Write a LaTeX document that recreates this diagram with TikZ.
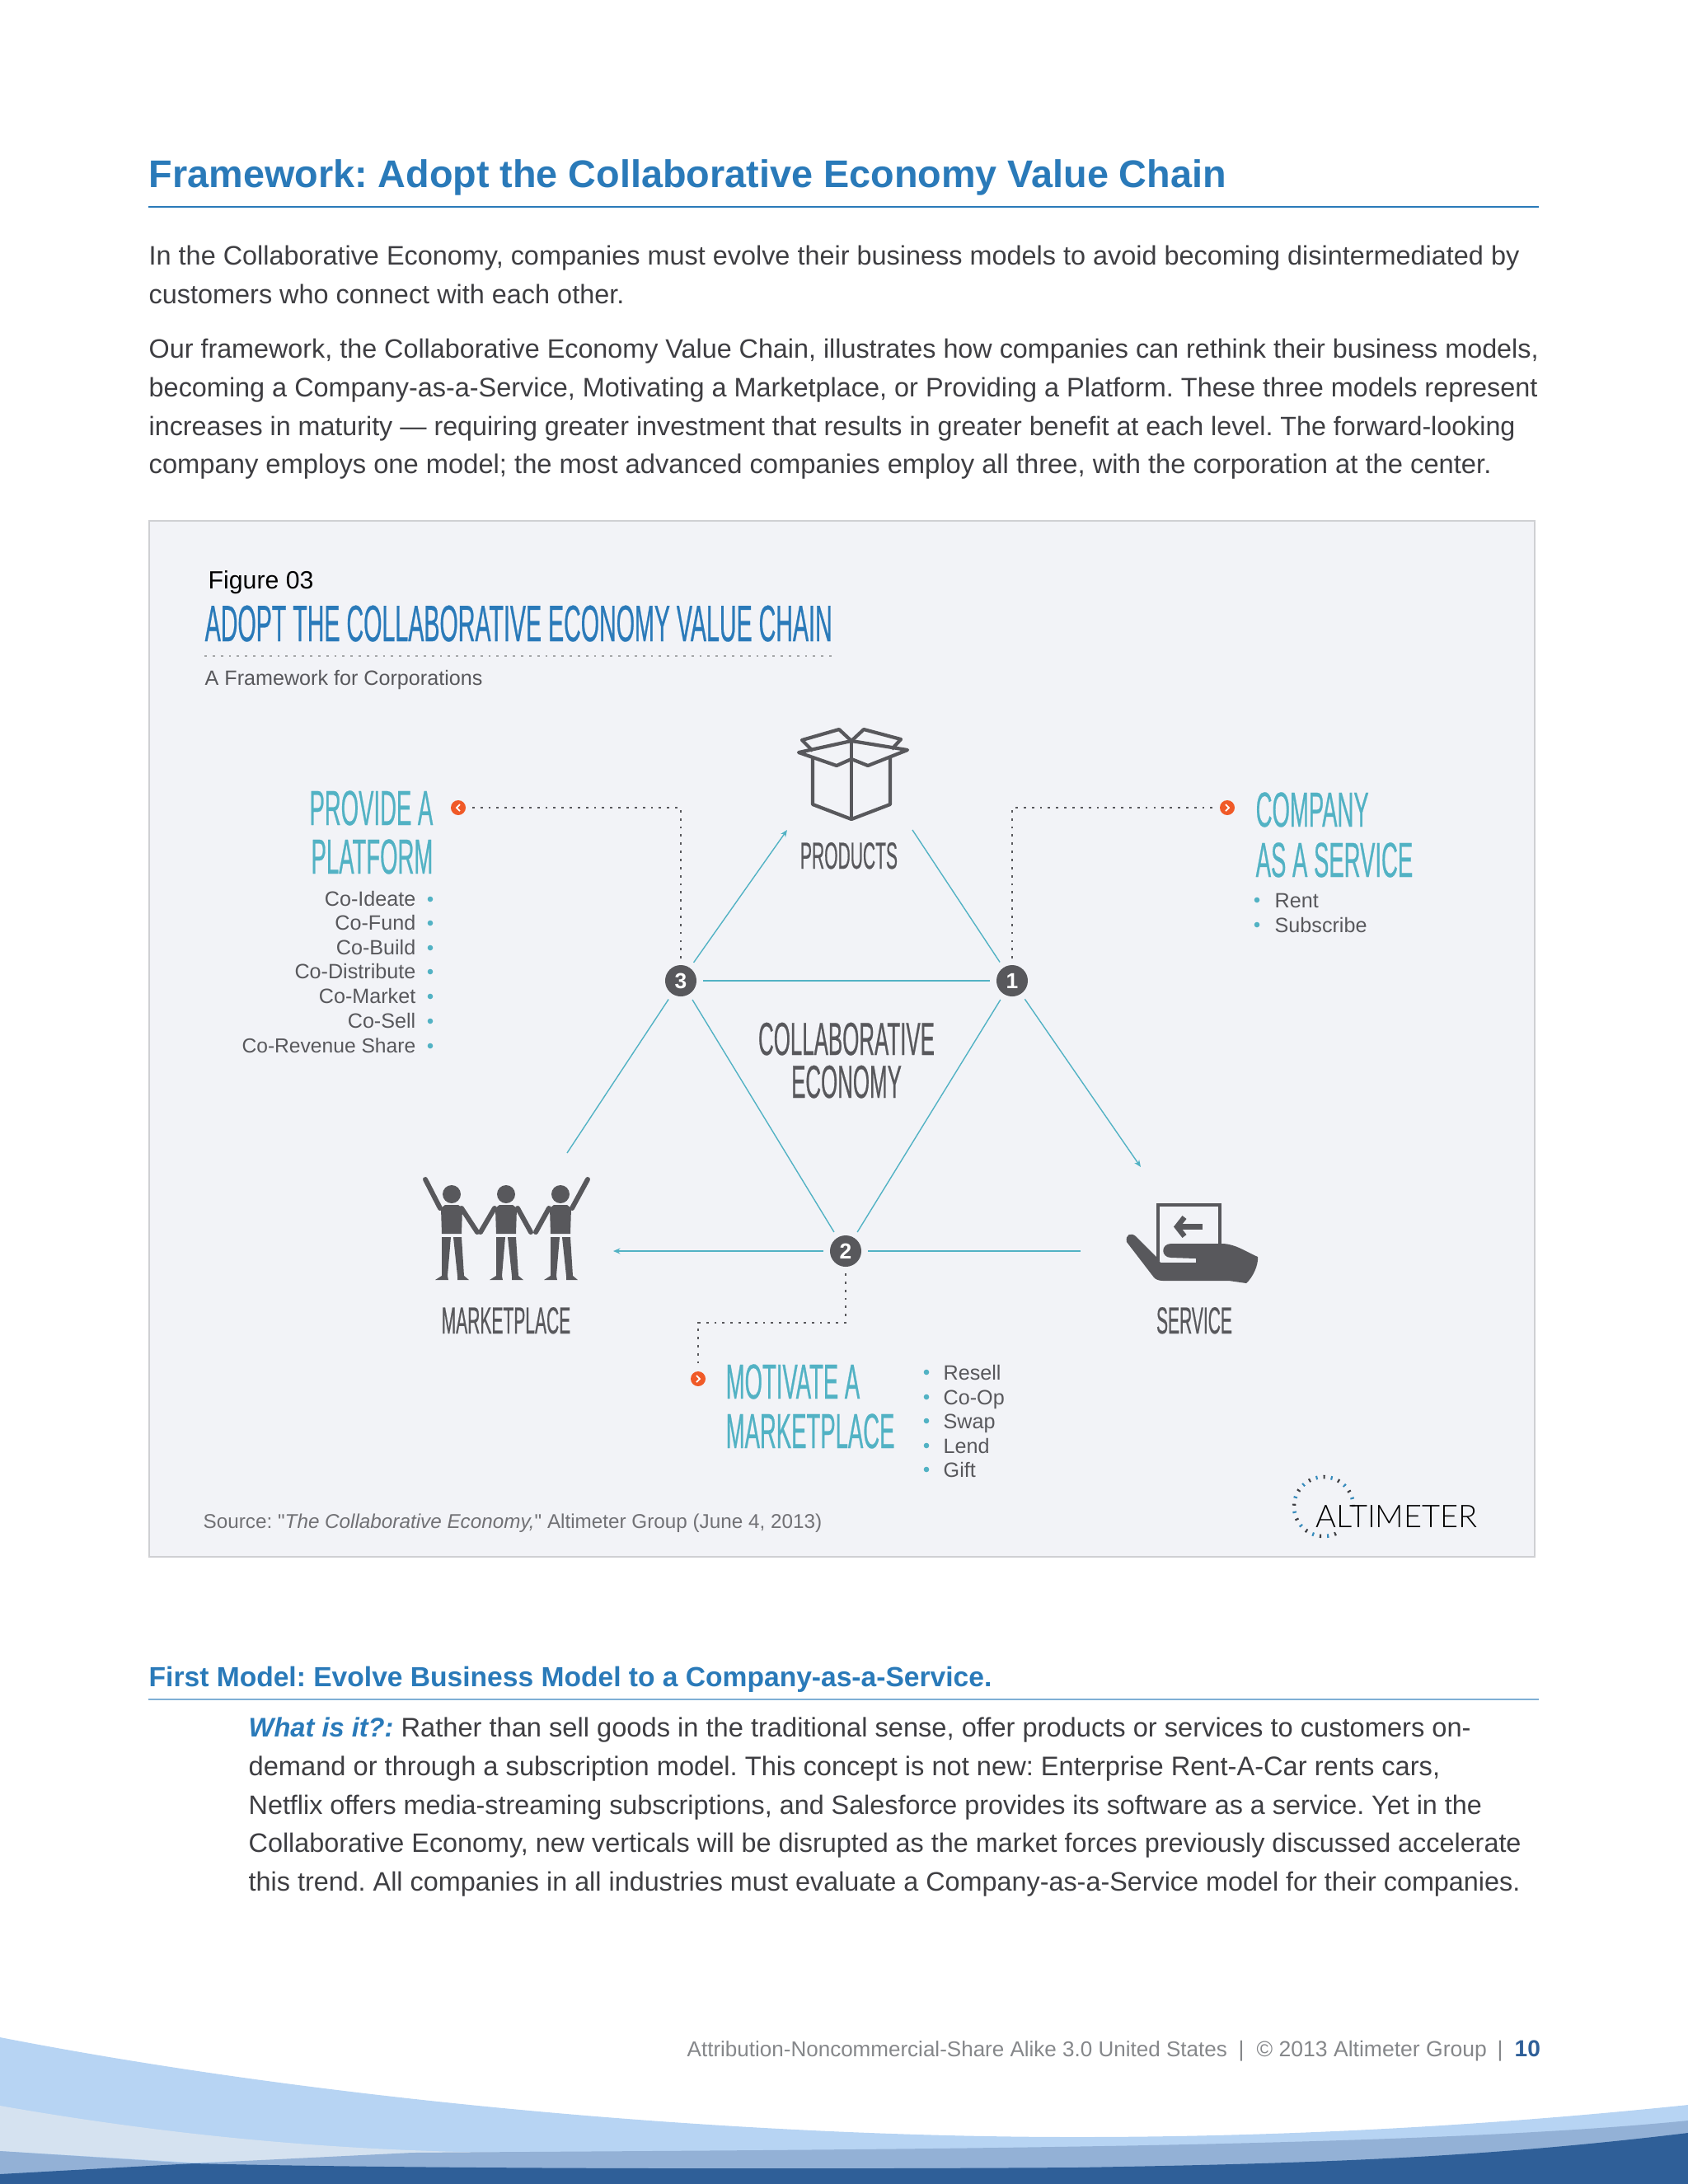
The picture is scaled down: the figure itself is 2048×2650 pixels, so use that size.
\documentclass[tikz,border=0pt]{standalone}
\usepackage{fontspec}
\usetikzlibrary{arrows.meta}
\setmainfont{Liberation Sans}
\newfontfamily\narrowfont[FakeStretch=.46,FakeBold=.4]{Liberation Sans}
\newfontfamily\logofont{Lato Light}
\newfontfamily\plainfont{Liberation Sans}
\AtBeginDocument{\frenchspacing}
\definecolor{headblue}{HTML}{2A7AB9}
\definecolor{rulegray}{HTML}{CFD0D3}
\definecolor{panelbg}{HTML}{F2F3F7}
\definecolor{iconcol}{HTML}{58585C}
\definecolor{bodycol}{HTML}{3E3E42}
\definecolor{tealcol}{HTML}{52B2C4}
\definecolor{tipcol}{HTML}{F05A28}
\definecolor{footcol}{HTML}{85878A}
\definecolor{waveone}{HTML}{B7D4F3}
\definecolor{wavetwo}{HTML}{D5E2F0}
\definecolor{wavethree}{HTML}{93B1D6}
\definecolor{wavefour}{HTML}{2F5F98}
\newcommand{\sz}[1]{\fontsize{#1}{#1}\selectfont}
\newcommand{\person}[1]{%
\begin{scope}[shift={(#1,0)}]
\fill[iconcol](0,1449)circle(11);
\fill[iconcol](-8,1462)--(8,1462)--(13,1466)--(12,1497)--(-12,1497)--(-13,1466)--cycle;
\fill[iconcol](-12,1501)--(-1,1501)--(-5,1548)--(-4,1553)--(-20,1553)--(-12,1548)--cycle;
\fill[iconcol](2,1501)--(12,1501)--(15,1548)--(21,1553)--(7,1553)--(7,1548)--cycle;
\end{scope}}
\begin{document}
\begin{tikzpicture}[x=.01cm,y=-.01cm,>={Stealth[length=2.4pt,width=2pt]},
txt/.style={inner sep=0pt,anchor=base west,font=\sz{9.22},text=bodycol},
small/.style={inner sep=0pt,anchor=base west,font=\sz{7.15},text=iconcol},
smallr/.style={small,anchor=base east},
big/.style={inner sep=0pt,anchor=base west,font=\narrowfont\sz{17},text=tealcol},
bigr/.style={big,anchor=base east},
lab/.style={inner sep=0pt,anchor=base,font=\narrowfont\sz{13},text=iconcol},
foot/.style={inner sep=0pt,anchor=base west,font=\sz{7.55},text=footcol},
num/.style={circle,fill=iconcol,text=white,inner sep=0pt,minimum size=.38cm,outer sep=.08cm,font=\bfseries\sz{7.5}},
tip/.style={circle,fill=tipcol,inner sep=0pt,minimum size=.18cm,outer sep=.05cm},
link/.style={tealcol,line width=.4pt},
dotline/.style={iconcol,line width=.8pt,dash pattern=on .8pt off 2pt}]
\useasboundingbox(0,0)rectangle(2048,2650);
% wave
\fill[waveone](0,2472).. controls (400,2550) and (900,2593) .. (1306,2593).. controls (1500,2593) and (1750,2585) .. (2048,2554)--(2048,2650)--(0,2650)--cycle;
\fill[wavetwo](0,2555).. controls (200,2590) and (400,2610) .. (620,2612)--(235,2624)--(0,2610)--cycle;
\fill[wavethree](0,2610)--(235,2625)--(500,2612).. controls (1000,2608) and (1700,2608) .. (2048,2573)--(2048,2650)--(0,2650)--cycle;
\fill[wavefour](0,2638)--(235,2625).. controls (500,2632) and (1000,2632) .. (1306,2630).. controls (1600,2625) and (1800,2618) .. (2048,2588)--(2048,2650)--(0,2650)--cycle;
% heading
\node(head)at(180,227)[inner sep=0pt,anchor=base west,font=\bfseries\sz{13.3},text=headblue]{Framework: Adopt the Collaborative Economy Value Chain};
\draw[headblue,line width=.5pt](180,251)--(1867,251);
\node(pa)at(180,321)[txt]{In the Collaborative Economy, companies must evolve their business models to avoid becoming disintermediated by};
\node(pb)at(180,368)[txt]{customers who connect with each other.};
\node(pc)at(180,434)[txt,font=\sz{9.19}]{Our framework, the Collaborative Economy Value Chain, illustrates how companies can rethink their business models,};
\node(pd)at(180,481)[txt]{becoming a Company-as-a-Service, Motivating a Marketplace, or Providing a Platform. These three models represent};
\node(pe)at(180,528)[txt,font=\sz{9.17}]{increases in maturity — requiring greater investment that results in greater benefit at each level. The forward-looking};
\node(pf)at(180,574)[txt,font=\sz{9.3}]{company employs one model; the most advanced companies employ all three, with the corporation at the center.};
% panel
\draw[fill=panelbg,draw=rulegray,line width=.7pt](181,632)rectangle(1862,1889);
\node(fig)at(252,714)[small,font=\sz{8.6},text=black]{Figure 03};
\node(figtitle)at(248,778)[inner sep=0pt,anchor=base west,font=\narrowfont\sz{17.7},text=headblue]{ADOPT THE COLLABORATIVE ECONOMY VALUE CHAIN};
\draw[rulegray!80!black,line width=.8pt,dash pattern=on .8pt off 2pt](248,796)--(1009,796);
\node(figsub)at(248,831)[small]{A Framework for Corporations};
% numbered nodes
\node[num](one)at(1228,1190){1};
\node[num](two)at(1026,1518){2};
\node[num](three)at(826,1190){3};
\coordinate(prodl)at(955,1007);
\coordinate(prodr)at(1107,1007);
\coordinate(servu)at(1384,1416);
\coordinate(servl)at(1311,1518);
\coordinate(marku)at(688,1399);
\coordinate(markr)at(744,1518);
\draw[link,->](three)--(prodl);
\draw[link](prodr)--(one);
\draw[link,->](one)--(servu);
\draw[link](three)--(one);
\draw[link](one)--(two);
\draw[link](three)--(two);
\draw[link](three)--(marku);
\draw[link,->](two)--(markr);
\draw[link](servl)--(two);
% orange tips
\node[tip](tipthree)at(556,980){};
\node[tip](tipone)at(1489,980){};
\node[tip](tiptwo)at(847,1673){};
\draw[white,line width=.5pt](558,976)--(554,980)--(558,984);
\draw[white,line width=.5pt](1487,976)--(1491,980)--(1487,984);
\draw[white,line width=.5pt](845,1669)--(849,1673)--(845,1677);
\coordinate(bendtwo)at(847,1605);
\draw[dotline](three)|-(tipthree);
\draw[dotline](one)|-(tipone);
\draw[dotline](two)|-(bendtwo)--(tiptwo);
% box
\draw[iconcol,line width=1.2pt,line join=round](986,918)--(986,976)--(1033,994)--(1080,976)--(1080,918);
\draw[iconcol,line width=1.2pt](1033,899)--(1033,994);
\draw[iconcol,line width=1.2pt,line join=round](969,913)--(1015,929)--(1033,921)--(1053,929)--(1101,910)--(1033,899)--cycle;
\draw[iconcol,line width=1.2pt,line join=round](986,911)--(973,898)--(1018,885)--(1033,899)--(1048,885)--(1093,897)--(1082,909);
% people
\person{548}\person{614}\person{680}
\draw[iconcol,line width=1.7pt,line cap=round](534,1466)--(516,1431);
\draw[iconcol,line width=1.7pt,line cap=round](560,1466)--(579,1495);
\draw[iconcol,line width=1.7pt,line cap=round](600,1466)--(583,1495);
\draw[iconcol,line width=1.7pt,line cap=round](628,1466)--(644,1495);
\draw[iconcol,line width=1.7pt,line cap=round](666,1466)--(650,1495);
\draw[iconcol,line width=1.7pt,line cap=round](694,1466)--(713,1431);
% hand
\draw[iconcol,line width=1.3pt](1405,1530)--(1405,1462)--(1480,1462)--(1480,1512);
\draw[iconcol,line width=1.8pt](1459,1488.5)--(1432,1488.5);
\draw[iconcol,line width=1.8pt](1437,1477)--(1428,1488.5)--(1437,1500);
\fill[iconcol](1367,1507).. controls (1365,1498) and (1372,1495) .. (1378,1500)--(1403,1525)--(1408,1532)--(1451,1532)--(1451,1527)--(1421,1526).. controls (1408,1526) and (1408,1509) .. (1421,1509)--(1484,1509).. controls (1500,1510) and (1510,1518) .. (1526,1525).. controls (1527,1535) and (1520,1550) .. (1512,1557)--(1491,1554)--(1411,1554).. controls (1405,1554) and (1402,1552) .. (1400,1550)--cycle;
% labels
\node(prod)at(1030,1054)[lab]{PRODUCTS};
\node(mark)at(614,1618)[lab]{MARKETPLACE};
\node(serv)at(1449,1618)[lab]{SERVICE};
\node(colla)at(1027,1280)[lab,font=\narrowfont\sz{16}]{COLLABORATIVE};
\node(collb)at(1027,1332)[lab,font=\narrowfont\sz{16}]{ECONOMY};
% platform
\node(plata)at(526,1001)[bigr]{PROVIDE A};
\node(platb)at(526,1060)[bigr]{PLATFORM};
\node(la)at(505,1099)[smallr]{Co-Ideate};
\node(lb)at(505,1128)[smallr]{Co-Fund};
\node(lc)at(505,1158)[smallr]{Co-Build};
\node(ld)at(505,1187)[smallr]{Co-Distribute};
\node(le)at(505,1217)[smallr]{Co-Market};
\node(lf)at(505,1247)[smallr]{Co-Sell};
\node(lg)at(505,1277)[smallr,font=\sz{7}]{Co-Revenue Share};
\fill[tealcol](522,1091)circle(3.3);
\fill[tealcol](522,1120)circle(3.3);
\fill[tealcol](522,1150)circle(3.3);
\fill[tealcol](522,1179)circle(3.3);
\fill[tealcol](522,1209)circle(3.3);
\fill[tealcol](522,1239)circle(3.3);
\fill[tealcol](522,1269)circle(3.3);
% company
\node(compa)at(1523,1003)[big]{COMPANY};
\node(compb)at(1523,1064)[big]{AS A SERVICE};
\node(ra)at(1546,1101)[small]{Rent};
\node(rb)at(1546,1131)[small]{Subscribe};
\fill[tealcol](1525,1092)circle(3.3);
\fill[tealcol](1525,1122)circle(3.3);
% marketplace
\node(mota)at(880,1697)[big]{MOTIVATE A};
\node(motb)at(880,1757)[big]{MARKETPLACE};
\node(ma)at(1144,1674)[small]{Resell};
\node(mb)at(1144,1704)[small]{Co-Op};
\node(mc)at(1144,1733)[small]{Swap};
\node(md)at(1144,1763)[small]{Lend};
\node(me)at(1144,1792)[small]{Gift};
\fill[tealcol](1124,1665)circle(3.3);
\fill[tealcol](1124,1695)circle(3.3);
\fill[tealcol](1124,1724)circle(3.3);
\fill[tealcol](1124,1754)circle(3.3);
\fill[tealcol](1124,1783)circle(3.3);
% source and logo
\node(src)at(246,1854)[small,font=\sz{6.9},text=iconcol!85]{Source: {\plainfont\symbol{34}}\textit{The Collaborative Economy,}{\plainfont\symbol{34}} Altimeter Group (June 4, 2013)};
\draw[bodycol,line width=1.3pt,dash pattern=on .6pt off 4.6pt](1642,1828)arc(0:-300:36);
\draw[headblue!70!tealcol,line width=1.3pt,dash pattern=on .6pt off 4.6pt,dash phase=2.6pt](1642,1828)arc(0:-300:36);
\node(logo)at(1596,1853)[inner sep=0pt,anchor=base west,font=\logofont\sz{10.8},text=black]{ALTIMETER};
% second part
\node(sub)at(180,2046)[inner sep=0pt,anchor=base west,font=\bfseries\sz{9.55},text=headblue]{First Model: Evolve Business Model to a Company-as-a-Service.};
\draw[headblue!60,line width=.5pt](180,2062)--(1867,2062);
\node(qa)at(301,2107)[txt,font=\sz{9.28}]{\textcolor{headblue}{\bfseries\itshape What is it?:} Rather than sell goods in the traditional sense, offer products or services to customers on-};
\node(qb)at(301,2154)[txt,font=\sz{9.28}]{demand or through a subscription model. This concept is not new: Enterprise Rent-A-Car rents cars,};
\node(qc)at(301,2201)[txt,font=\sz{9.19}]{Netflix offers media-streaming subscriptions, and Salesforce provides its software as a service. Yet in the};
\node(qd)at(301,2247)[txt,font=\sz{9.2}]{Collaborative Economy, new verticals will be disrupted as the market forces previously discussed accelerate};
\node(qe)at(301,2294)[txt,font=\sz{9.2}]{this trend. All companies in all industries must evaluate a Company-as-a-Service model for their companies.};
% footer
\node(fa)at(833,2495)[foot,font=\sz{7.4}]{Attribution-Noncommercial-Share Alike 3.0 United States};
\node(fb)at(1502,2495)[foot]{|};
\node(fc)at(1524,2495)[foot]{© 2013 Altimeter Group};
\node(fd)at(1816,2495)[foot]{|};
\node(fe)at(1837,2495)[foot,font=\bfseries\sz{8},text=wavefour]{10};
\end{tikzpicture}
\end{document}
